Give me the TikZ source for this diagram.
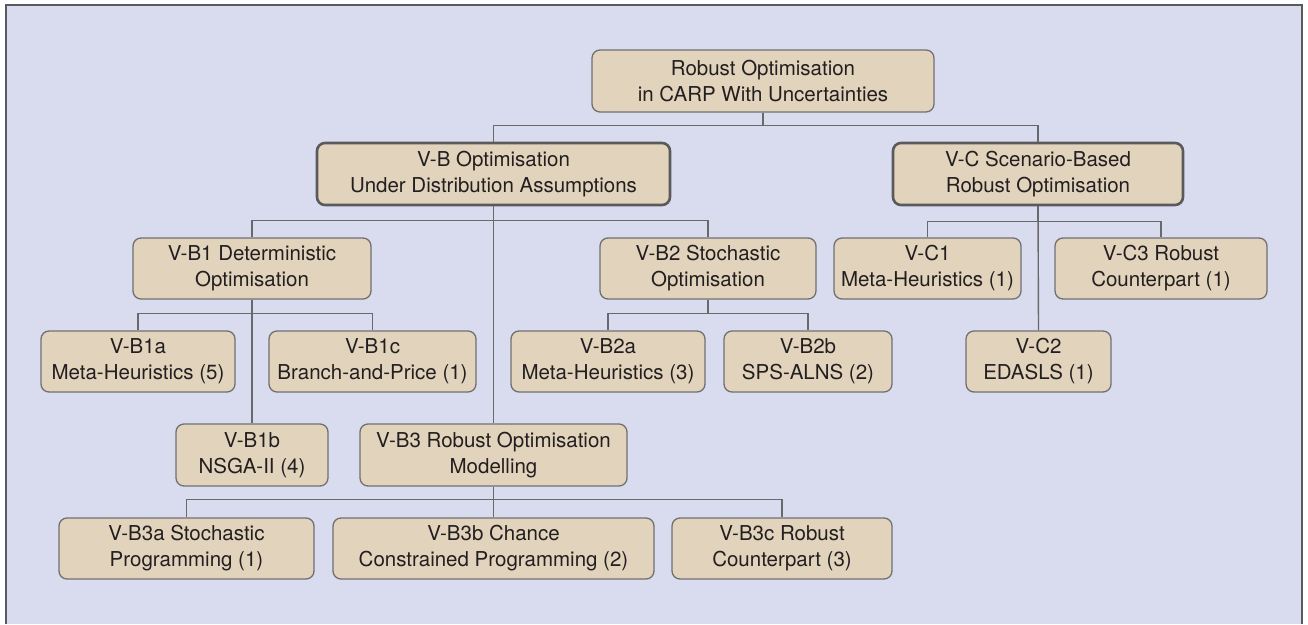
\documentclass[tikz,border=0pt]{standalone}
\usepackage{fontspec}
\setmainfont{TeX Gyre Heros}
\definecolor{panelbg}{RGB}{217,220,238}
\definecolor{boxfill}{RGB}{226,212,188}
\definecolor{boxline}{RGB}{112,112,114}
\definecolor{linkline}{RGB}{105,105,108}
\definecolor{txt}{RGB}{35,31,32}
\definecolor{framecol}{RGB}{90,90,92}
\tikzset{
  topic/.style={draw=boxline, line width=1.3pt, fill=boxfill, rounded corners=8pt,
    align=center, inner sep=0pt, text=txt,
    font=\fontsize{20.5}{26}\selectfont},
  majortopic/.style={topic, draw=framecol, line width=2.6pt},
  link/.style={draw=linkline, line width=1.4pt},
}
% topic box from its left/right/top/bottom edges (pixel units)
\newcommand{\topicbox}[7][topic]{%
  \node[#1, minimum width={#4-#3}, minimum height={#6-#5}] (#2)
    at ({(#3+#4)/2},{(#5+#6)/2}) {#7};}
\begin{document}
\begin{tikzpicture}[x=1pt,y=-1pt]
\useasboundingbox (0,0) rectangle (1308,624);
% panel
\fill[panelbg] (6,5) rectangle (1302,624);
\draw[framecol, line width=2pt] (6,624) -- (6,5) -- (1302,5) -- (1302,624);

% level 0
\topicbox{root}{592}{934}{50}{112}{Robust Optimisation\\in CARP With Uncertainties}
% level 1
\topicbox[majortopic]{vb}{317}{670}{143}{205}{V-B Optimisation\\Under Distribution Assumptions}
\topicbox[majortopic]{vc}{893}{1183}{143}{205}{V-C Scenario-Based\\Robust Optimisation}
% level 2
\topicbox{vbone}{133}{371}{238}{299}{V-B1 Deterministic\\Optimisation}
\topicbox{vbtwo}{600}{816}{238}{299}{V-B2 Stochastic\\Optimisation}
\topicbox{vcone}{834}{1021}{238}{299}{V-C1\\Meta-Heuristics (1)}
\topicbox{vcthree}{1055}{1267}{238}{299}{V-C3 Robust\\Counterpart (1)}
% level 3
\topicbox{vbonea}{41}{235}{331}{392}{V-B1a\\Meta-Heuristics (5)}
\topicbox{vbonec}{269}{476}{331}{392}{V-B1c\\Branch-and-Price (1)}
\topicbox{vbtwoa}{511}{705}{331}{392}{V-B2a\\Meta-Heuristics (3)}
\topicbox{vbtwob}{724}{892}{331}{392}{V-B2b\\SPS-ALNS (2)}
\topicbox{vctwo}{966}{1111}{331}{392}{V-C2\\EDASLS (1)}
% level 4
\topicbox{vboneb}{176}{328}{424}{486}{V-B1b\\NSGA-II (4)}
\topicbox{vbthree}{360}{627}{424}{486}{V-B3 Robust Optimisation\\Modelling}
% level 5
\topicbox{vbthreea}{59}{314}{518}{579}{V-B3a Stochastic\\Programming (1)}
\topicbox{vbthreeb}{333}{654}{518}{579}{V-B3b Chance\\Constrained Programming (2)}
\topicbox{vbthreec}{672}{892}{518}{579}{V-B3c Robust\\Counterpart (3)}

% connectors
\draw[link] (root.south) -- ++(0,13) -| (vb.north);
\draw[link] (root.south) -- ++(0,13) -| (vc.north);

\draw[link] (vb.south) -- ++(0,14) -| (vbone.north);
\draw[link] (vb.south) -- ++(0,14) -| (vbtwo.north);
\draw[link] (vb.south) -- (vbthree.north);

\draw[link] (vc.south) -- ++(0,15) -| (vcone.north);
\draw[link] (vc.south) -- ++(0,15) -| (vcthree.north);
\draw[link] (vc.south) -- (vctwo.north);

\draw[link] (vbone.south) -- ++(0,14) -| (vbonea.north);
\draw[link] (vbone.south) -- ++(0,14) -| (vbonec.north);
\draw[link] (vbone.south) -- (vboneb.north);

\draw[link] (vbtwo.south) -- ++(0,14) -| (vbtwoa.north);
\draw[link] (vbtwo.south) -- ++(0,14) -| (vbtwob.north);

\draw[link] (vbthree.south) -- ++(0,13) -| (vbthreea.north);
\draw[link] (vbthree.south) -- ++(0,13) -| (vbthreec.north);
\draw[link] (vbthree.south) -- (vbthreeb.north);
\end{tikzpicture}
\end{document}
